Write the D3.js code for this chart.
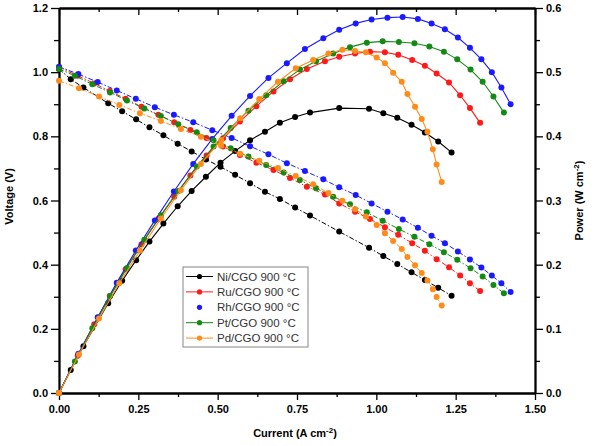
<!DOCTYPE html>
<html lang="en">
<head>
    <meta charset="UTF-8">
    <title>Voltage and power vs current</title>
    <script src="https://cdnjs.cloudflare.com/ajax/libs/d3/7.8.5/d3.min.js"></script>
    <style>
        body { margin: 0; padding: 0; background: #fff; }
        .axis text { font: bold 11px Arial, "Liberation Sans", sans-serif; fill: #000; }
        .axis path, .axis line { stroke: #000; }
        .axis path { stroke-width: 1.8px; }
        .axis line { stroke-width: 1.3px; }
        .title { font: bold 11px Arial, "Liberation Sans", sans-serif; fill: #000; }
        .legend text { font: 11.5px Arial, "Liberation Sans", sans-serif; fill: #333; }
    </style>
</head>
<body>
<div id="chart"></div>
<script>
        // Ni/CGO 900 °C
        const niCurrent = [0, 0.037, 0.077, 0.155, 0.199, 0.243, 0.285, 0.329, 0.374, 0.418, 0.463, 0.509, 0.555, 0.602, 0.649, 0.696, 0.744, 0.791, 0.883, 0.977, 1.022, 1.066, 1.111, 1.153, 1.195, 1.237];
        const niVoltage = [1.010, 0.978, 0.952, 0.903, 0.878, 0.853, 0.828, 0.803, 0.777, 0.753, 0.728, 0.705, 0.680, 0.654, 0.627, 0.605, 0.578, 0.553, 0.503, 0.453, 0.427, 0.402, 0.376, 0.352, 0.328, 0.303];
        const niPower   = [0, 0.036, 0.073, 0.140, 0.175, 0.207, 0.236, 0.264, 0.291, 0.315, 0.337, 0.359, 0.377, 0.394, 0.407, 0.421, 0.430, 0.437, 0.444, 0.443, 0.436, 0.429, 0.418, 0.406, 0.392, 0.375];

        // Ru/CGO 900 °C
        const ruCurrent = [0, 0.059, 0.111, 0.160, 0.210, 0.260, 0.313, 0.363, 0.414, 0.465, 0.517, 0.570, 0.622, 0.676, 0.728, 0.781, 0.838, 0.883, 0.933, 0.980, 1.027, 1.069, 1.113, 1.153, 1.190, 1.229, 1.264, 1.295, 1.327];
        const ruVoltage = [1.015, 0.989, 0.965, 0.941, 0.917, 0.892, 0.867, 0.844, 0.820, 0.795, 0.768, 0.742, 0.718, 0.695, 0.670, 0.643, 0.619, 0.591, 0.565, 0.542, 0.517, 0.493, 0.467, 0.443, 0.417, 0.392, 0.366, 0.342, 0.318];
        const ruPower   = [0, 0.058, 0.107, 0.151, 0.193, 0.232, 0.271, 0.306, 0.339, 0.370, 0.397, 0.423, 0.447, 0.470, 0.489, 0.505, 0.517, 0.524, 0.529, 0.532, 0.531, 0.527, 0.519, 0.510, 0.498, 0.484, 0.464, 0.444, 0.421];

        // Rh/CGO 900 °C
        const rhCurrent = [0, 0.061, 0.122, 0.182, 0.242, 0.302, 0.362, 0.423, 0.483, 0.544, 0.602, 0.660, 0.718, 0.775, 0.833, 0.883, 0.935, 0.985, 1.035, 1.083, 1.131, 1.174, 1.216, 1.257, 1.295, 1.331, 1.364, 1.394, 1.423];
        const rhVoltage = [1.017, 0.994, 0.969, 0.943, 0.917, 0.891, 0.867, 0.844, 0.819, 0.795, 0.769, 0.744, 0.716, 0.692, 0.666, 0.641, 0.617, 0.591, 0.565, 0.541, 0.515, 0.490, 0.467, 0.441, 0.416, 0.391, 0.366, 0.342, 0.315];
        const rhPower   = [0, 0.061, 0.118, 0.172, 0.222, 0.269, 0.314, 0.357, 0.396, 0.432, 0.463, 0.491, 0.514, 0.536, 0.553, 0.566, 0.576, 0.582, 0.585, 0.586, 0.583, 0.576, 0.567, 0.554, 0.538, 0.520, 0.500, 0.476, 0.450];

        // Pt/CGO 900 °C
        const ptCurrent = [0, 0.050, 0.105, 0.161, 0.214, 0.269, 0.321, 0.376, 0.434, 0.487, 0.541, 0.597, 0.653, 0.708, 0.759, 0.810, 0.864, 0.917, 0.970, 1.020, 1.071, 1.120, 1.167, 1.213, 1.255, 1.297, 1.335, 1.369, 1.402];
        const ptVoltage = [1.010, 0.989, 0.962, 0.937, 0.912, 0.887, 0.863, 0.838, 0.813, 0.788, 0.763, 0.737, 0.711, 0.687, 0.664, 0.638, 0.612, 0.588, 0.563, 0.537, 0.511, 0.487, 0.464, 0.439, 0.415, 0.389, 0.363, 0.337, 0.311];
        const ptPower   = [0, 0.049, 0.101, 0.151, 0.195, 0.239, 0.277, 0.315, 0.353, 0.384, 0.413, 0.440, 0.464, 0.486, 0.504, 0.517, 0.529, 0.539, 0.546, 0.548, 0.547, 0.545, 0.540, 0.532, 0.520, 0.504, 0.485, 0.462, 0.437];

        // Pd/CGO 900 °C
        const pdCurrent = [0, 0.063, 0.126, 0.190, 0.255, 0.321, 0.384, 0.447, 0.511, 0.571, 0.631, 0.690, 0.746, 0.801, 0.849, 0.893, 0.933, 0.967, 1.001, 1.027, 1.053, 1.080, 1.098, 1.122, 1.143, 1.161, 1.178, 1.190, 1.206];
        const pdVoltage = [0.973, 0.950, 0.924, 0.898, 0.872, 0.848, 0.823, 0.799, 0.771, 0.746, 0.724, 0.701, 0.676, 0.651, 0.623, 0.599, 0.573, 0.550, 0.524, 0.498, 0.474, 0.449, 0.424, 0.398, 0.374, 0.351, 0.323, 0.299, 0.273];
        const pdPower   = [0, 0.060, 0.116, 0.171, 0.222, 0.272, 0.316, 0.357, 0.394, 0.428, 0.458, 0.485, 0.506, 0.519, 0.529, 0.535, 0.533, 0.531, 0.523, 0.514, 0.499, 0.485, 0.466, 0.446, 0.427, 0.407, 0.380, 0.356, 0.329];

        const seriesNames = ["Ni/CGO 900 °C", "Ru/CGO 900 °C", "Rh/CGO 900 °C", "Pt/CGO 900 °C", "Pd/CGO 900 °C"];
        const seriesColors = ["#000000", "#ff1a1a", "#1a1aff", "#138a13", "#ff8c1a"];

        const xTicks = [0, 0.25, 0.5, 0.75, 1.0, 1.25, 1.5];
        const voltageTicks = [0, 0.2, 0.4, 0.6, 0.8, 1.0, 1.2];
        const powerTicks = [0, 0.1, 0.2, 0.3, 0.4, 0.5, 0.6];

        const series = [
            { current: niCurrent, voltage: niVoltage, power: niPower },
            { current: ruCurrent, voltage: ruVoltage, power: ruPower },
            { current: rhCurrent, voltage: rhVoltage, power: rhPower },
            { current: ptCurrent, voltage: ptVoltage, power: ptPower },
            { current: pdCurrent, voltage: pdVoltage, power: pdPower }
        ].map((s, i) => ({ ...s, name: seriesNames[i], color: seriesColors[i] }));

        const width = 597, height = 446;
        const margin = { top: 8, right: 62, bottom: 53, left: 59 };

        const svg = d3.select("#chart").append("svg")
            .attr("width", width)
            .attr("height", height);

        const x = d3.scaleLinear().domain([0, 1.5]).range([margin.left, width - margin.right]);
        const yV = d3.scaleLinear().domain([0, 1.2]).range([height - margin.bottom, margin.top]);
        const yP = d3.scaleLinear().domain([0, 0.6]).range([height - margin.bottom, margin.top]);

        const x0 = margin.left, x1 = width - margin.right;
        const y0 = height - margin.bottom, y1 = margin.top;

        // minor ticks (halfway between majors)
        const mid = arr => arr.slice(1).map((v, i) => (v + arr[i]) / 2);

        // bottom
        svg.append("g").attr("class", "axis")
            .attr("transform", `translate(0,${y0})`)
            .call(d3.axisBottom(x).tickValues(mid(xTicks)).tickSize(4).tickSizeOuter(0).tickFormat(""));
        svg.append("g").attr("class", "axis")
            .attr("transform", `translate(0,${y0})`)
            .call(d3.axisBottom(x).tickValues(xTicks).tickSize(7).tickSizeOuter(0).tickFormat(d3.format(".2f")))
            .call(g => g.selectAll("text").attr("dy", "0.9em"));

        // top (inward ticks, no labels)
        svg.append("g").attr("class", "axis")
            .attr("transform", `translate(0,${y1})`)
            .call(d3.axisTop(x).tickValues(mid(xTicks)).tickSize(-4).tickSizeOuter(0).tickFormat(""));
        svg.append("g").attr("class", "axis")
            .attr("transform", `translate(0,${y1})`)
            .call(d3.axisTop(x).tickValues(xTicks).tickSize(-7).tickSizeOuter(0).tickFormat(""));

        // left
        svg.append("g").attr("class", "axis")
            .attr("transform", `translate(${x0},0)`)
            .call(d3.axisLeft(yV).tickValues(mid(voltageTicks)).tickSize(5).tickSizeOuter(0).tickFormat(""));
        svg.append("g").attr("class", "axis")
            .attr("transform", `translate(${x0},0)`)
            .call(d3.axisLeft(yV).tickValues(voltageTicks).tickSize(8).tickSizeOuter(0).tickFormat(d3.format(".1f")));

        // right
        svg.append("g").attr("class", "axis")
            .attr("transform", `translate(${x1},0)`)
            .call(d3.axisRight(yP).tickValues(mid(powerTicks)).tickSize(5).tickSizeOuter(0).tickFormat(""));
        svg.append("g").attr("class", "axis")
            .attr("transform", `translate(${x1},0)`)
            .call(d3.axisRight(yP).tickValues(powerTicks).tickSize(8).tickSizeOuter(0).tickFormat(d3.format(".1f")));

        // axis titles
        const xt = svg.append("text").attr("class", "title")
            .attr("x", (x0 + x1) / 2 - 2).attr("y", 437)
            .attr("text-anchor", "middle");
        xt.append("tspan").text("Current (A cm");
        xt.append("tspan").attr("dy", -4).attr("font-size", "8px").text("-2");
        xt.append("tspan").attr("dy", 4).text(")");

        svg.append("text").attr("class", "title")
            .attr("transform", `translate(13,${(y0 + y1) / 2 - 4}) rotate(-90)`)
            .attr("text-anchor", "middle")
            .text("Voltage (V)");

        const pt = svg.append("text").attr("class", "title")
            .attr("transform", `translate(583,${(y0 + y1) / 2}) rotate(-90)`)
            .attr("text-anchor", "middle");
        pt.append("tspan").text("Power (W cm");
        pt.append("tspan").attr("dy", -4).attr("font-size", "8px").text("-2");
        pt.append("tspan").attr("dy", 4).text(")");

        const lineV = d3.line().x(d => x(d[0])).y(d => yV(d[1]));
        const lineP = d3.line().x(d => x(d[0])).y(d => yP(d[1]));

        const plot = svg.append("g");

        series.forEach(s => {
            const vPts = s.current.map((c, i) => [c, s.voltage[i]]);
            const pPts = s.current.map((c, i) => [c, s.power[i]]);
            const g = plot.append("g");

            g.append("path").datum(vPts)
                .attr("d", lineV)
                .attr("fill", "none")
                .attr("stroke", s.color)
                .attr("stroke-width", 1)
                .attr("stroke-dasharray", "5,2,1.5,2");
            g.append("path").datum(pPts)
                .attr("d", lineP)
                .attr("fill", "none")
                .attr("stroke", s.color)
                .attr("stroke-width", 1.1);

            g.selectAll(".mv").data(vPts).enter().append("circle")
                .attr("cx", d => x(d[0])).attr("cy", d => yV(d[1]))
                .attr("r", 3).attr("fill", s.color);
            g.selectAll(".mp").data(pPts).enter().append("circle")
                .attr("cx", d => x(d[0])).attr("cy", d => yP(d[1]))
                .attr("r", 3).attr("fill", s.color);
        });

        // legend
        const legend = svg.append("g").attr("class", "legend");
        legend.append("rect")
            .attr("x", 183).attr("y", 267).attr("width", 125).attr("height", 80)
            .attr("fill", "#fff").attr("stroke", "#999").attr("stroke-width", 1.2);

        series.forEach((s, i) => {
            const ly = 276.5 + i * 15.4;
            const row = legend.append("g");
            if (i !== 2) {
                row.append("line")
                    .attr("x1", 186).attr("x2", 213).attr("y1", ly).attr("y2", ly)
                    .attr("stroke", s.color).attr("stroke-width", 1);
            }
            row.append("circle").attr("cx", 199.5).attr("cy", ly).attr("r", 2.6).attr("fill", s.color);
            row.append("text").attr("x", 217).attr("y", ly).attr("dy", "0.36em").text(s.name);
        });
</script>
</body>
</html>
